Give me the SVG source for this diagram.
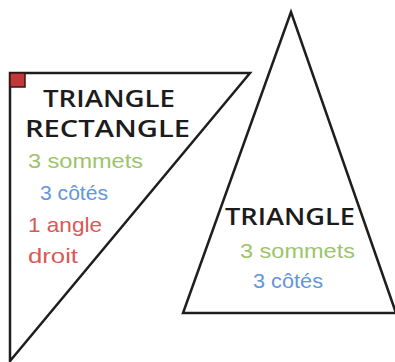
<svg xmlns="http://www.w3.org/2000/svg" width="395" height="362" viewBox="0 0 395 362">
<style>
.shape{fill:#ffffff;stroke:#1e1e1e;stroke-width:2.5;stroke-linejoin:miter}
.title{font-family:"Open Sans","Liberation Sans",Arial,sans-serif;font-weight:600;font-size:24px;fill:#1c1c1c}
.t{font-family:"Liberation Sans",Arial,sans-serif;font-size:21px}
.green{fill:#9cc46c}
.blue{fill:#6396d8}
.red{fill:#d65a55}
</style>
<rect width="395" height="362" fill="#ffffff"/>
<g id="triangle-rectangle">
<polygon class="shape" points="10,73 250,73 10,361"/>
<rect x="10" y="73" width="15" height="14" fill="#c0383a" stroke="#3a1515" stroke-width="1.5"/>
<text class="title" x="43" y="107" textLength="132" lengthAdjust="spacingAndGlyphs">TRIANGLE</text>
<text class="title" x="25" y="137" textLength="165" lengthAdjust="spacingAndGlyphs">RECTANGLE</text>
<text class="t green" x="28" y="168" textLength="115" lengthAdjust="spacingAndGlyphs">3 sommets</text>
<text class="t blue" x="40" y="200" textLength="68" lengthAdjust="spacingAndGlyphs">3 côtés</text>
<text class="t red" x="28" y="232" textLength="74" lengthAdjust="spacingAndGlyphs">1 angle</text>
<text class="t red" x="28" y="263" textLength="50" lengthAdjust="spacingAndGlyphs">droit</text>
</g>
<g id="triangle">
<polygon class="shape" points="291,12 183,313 396,313"/>
<text class="title" x="225" y="225" textLength="130" lengthAdjust="spacingAndGlyphs">TRIANGLE</text>
<text class="t green" x="240" y="258" textLength="115" lengthAdjust="spacingAndGlyphs">3 sommets</text>
<text class="t blue" x="253" y="288" textLength="70" lengthAdjust="spacingAndGlyphs">3 côtés</text>
</g>
<g id="connectors"/>
</svg>
